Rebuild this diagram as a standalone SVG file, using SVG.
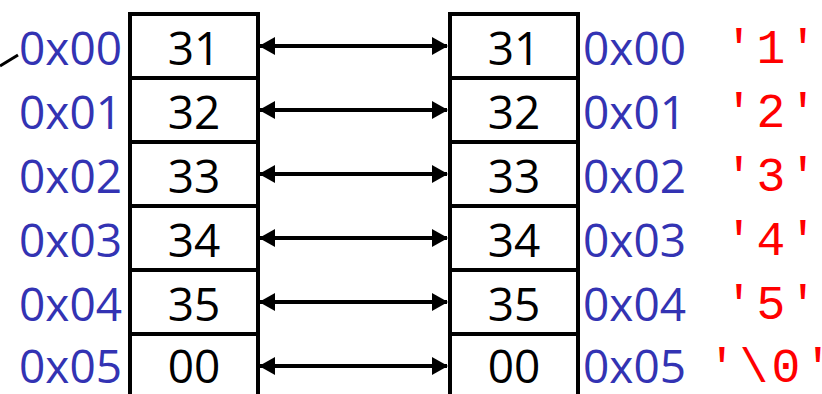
<svg xmlns="http://www.w3.org/2000/svg" width="822" height="394" viewBox="0 0 822 394">
<style>
.cell{fill:#fff;stroke:#000;stroke-width:4}
.val{font-family:"Open Sans","Noto Sans",sans-serif;font-size:46px;fill:#000;text-anchor:middle}
.addr{font-family:"Open Sans","Noto Sans",sans-serif;font-size:46px;fill:#3333B3}
.addrL{text-anchor:end}
.chr{font-family:"Liberation Mono","Courier New",monospace;font-size:48px;letter-spacing:3.2px;fill:#FF0000}
.conn{stroke:#000;stroke-width:4;fill:none;marker-start:url(#ah);marker-end:url(#ah)}
</style>
<defs>
<marker id="ah" markerUnits="userSpaceOnUse" markerWidth="16" markerHeight="18" refX="15" refY="9" orient="auto-start-reverse">
<path d="M0,0 L16,9 L0,18 Z" fill="#000"/>
</marker>
</defs>
<rect width="822" height="394" fill="#fff"/>
<line x1="0" y1="66" x2="18" y2="55" stroke="#000" stroke-width="3"/>
<g id="left-cell-0"><rect class="cell" x="130" y="14" width="128" height="64"/><text class="val" x="194" y="65">31</text><text class="addr addrL" x="122" y="65">0x00</text></g>
<g id="left-cell-1"><rect class="cell" x="130" y="78" width="128" height="64"/><text class="val" x="194" y="129">32</text><text class="addr addrL" x="122" y="129">0x01</text></g>
<g id="left-cell-2"><rect class="cell" x="130" y="142" width="128" height="64"/><text class="val" x="194" y="193">33</text><text class="addr addrL" x="122" y="193">0x02</text></g>
<g id="left-cell-3"><rect class="cell" x="130" y="206" width="128" height="64"/><text class="val" x="194" y="257">34</text><text class="addr addrL" x="122" y="257">0x03</text></g>
<g id="left-cell-4"><rect class="cell" x="130" y="270" width="128" height="64"/><text class="val" x="194" y="321">35</text><text class="addr addrL" x="122" y="321">0x04</text></g>
<g id="left-cell-5"><rect class="cell" x="130" y="334" width="128" height="64"/><text class="val" x="194" y="383">00</text><text class="addr addrL" x="122" y="383">0x05</text></g>
<g id="right-cell-0"><rect class="cell" x="450" y="14" width="128" height="64"/><text class="val" x="514" y="65">31</text><text class="addr" x="583" y="65">0x00</text><text class="chr" x="724.6" y="63">'1'</text></g>
<g id="right-cell-1"><rect class="cell" x="450" y="78" width="128" height="64"/><text class="val" x="514" y="129">32</text><text class="addr" x="583" y="129">0x01</text><text class="chr" x="724.6" y="127">'2'</text></g>
<g id="right-cell-2"><rect class="cell" x="450" y="142" width="128" height="64"/><text class="val" x="514" y="193">33</text><text class="addr" x="583" y="193">0x02</text><text class="chr" x="724.6" y="191">'3'</text></g>
<g id="right-cell-3"><rect class="cell" x="450" y="206" width="128" height="64"/><text class="val" x="514" y="257">34</text><text class="addr" x="583" y="257">0x03</text><text class="chr" x="724.6" y="255">'4'</text></g>
<g id="right-cell-4"><rect class="cell" x="450" y="270" width="128" height="64"/><text class="val" x="514" y="321">35</text><text class="addr" x="583" y="321">0x04</text><text class="chr" x="724.6" y="319">'5'</text></g>
<g id="right-cell-5"><rect class="cell" x="450" y="334" width="128" height="64"/><text class="val" x="514" y="383">00</text><text class="addr" x="583" y="383">0x05</text><text class="chr" x="707.6" y="382">'\0'</text></g>
<g id="connectors">
<line class="conn" x1="260" y1="46" x2="447" y2="46"/>
<line class="conn" x1="260" y1="110" x2="447" y2="110"/>
<line class="conn" x1="260" y1="174" x2="447" y2="174"/>
<line class="conn" x1="260" y1="238" x2="447" y2="238"/>
<line class="conn" x1="260" y1="302" x2="447" y2="302"/>
<line class="conn" x1="260" y1="366" x2="447" y2="366"/>
</g>
</svg>
